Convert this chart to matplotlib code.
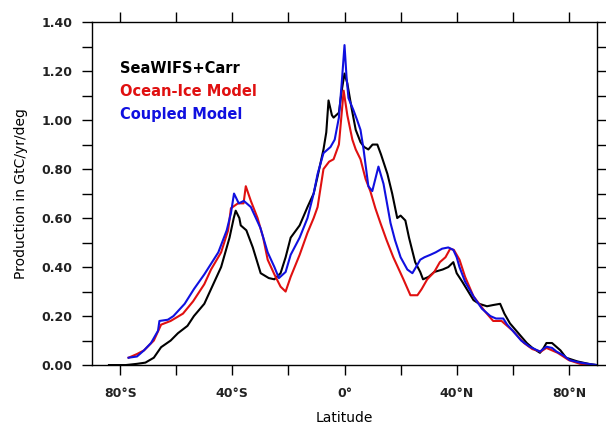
import numpy as np
import matplotlib
matplotlib.use("Agg")
from matplotlib import pyplot
from matplotlib.ticker import MultipleLocator, FixedLocator

# zonal integrated primary production
lat_obs = [-84, -78, -74, -71, -68, -65.4, -62, -59.4, -56, -53.7, -50, -47.6, -44, -41, -39.5,
           -38.8, -37.5, -37, -35, -32.7, -29.9, -27, -25, -22.8, -21, -19.2, -16, -13.2, -11,
           -9.6, -7.5, -6.5, -5.7, -4.5, -3.9, -2, -1, 0, 1, 2.5, 4, 5.7, 7, 8.5, 10, 11.7, 13,
           15.3, 17, 18.8, 20, 21.7, 23, 25.2, 27, 28, 30, 32, 35, 37, 38.8, 40, 42, 46, 48, 50.8,
           53, 55.5, 57, 59, 62, 65, 67, 69.7, 71, 72, 74, 75, 77, 79, 83, 87, 90]
prod_obs = [0, 0, 0.005, 0.01, 0.03, 0.073, 0.10, 0.13, 0.16, 0.20, 0.25, 0.31, 0.40, 0.52, 0.60,
            0.63, 0.60, 0.57, 0.55, 0.48, 0.375, 0.355, 0.35, 0.375, 0.44, 0.52, 0.57, 0.645, 0.70,
            0.77, 0.88, 0.95, 1.08, 1.02, 1.01, 1.03, 1.12, 1.19, 1.15, 1.05, 0.96, 0.91, 0.89, 0.88,
            0.90, 0.90, 0.86, 0.78, 0.70, 0.60, 0.61, 0.59, 0.52, 0.42, 0.38, 0.35, 0.36, 0.38, 0.39,
            0.40, 0.42, 0.375, 0.34, 0.265, 0.25, 0.24, 0.245, 0.25, 0.21, 0.17, 0.13, 0.09, 0.07,
            0.05, 0.07, 0.09, 0.09, 0.08, 0.06, 0.03, 0.015, 0.005, 0]

lat_ocn = [-77, -74, -71.5, -68, -66, -65.4, -62, -57.6, -54, -50, -47.6, -44, -41.5, -40.5, -38,
           -36, -35.2, -33.4, -31, -29, -27.4, -25, -22.8, -21, -19.2, -16, -13.2, -11, -9.6, -7.5,
           -5.5, -3.9, -2, -0.3, 1, 2.8, 4, 5.7, 7.5, 9.2, 11, 12.8, 15, 17.4, 19, 21, 23.5, 26,
           27.5, 29.5, 32, 34, 36, 37.7, 39, 41, 43, 46, 50, 53, 56, 60, 64, 67, 70, 72, 74, 76,
           80, 84, 88]
prod_ocn = [0.03, 0.045, 0.06, 0.10, 0.15, 0.165, 0.18, 0.21, 0.26, 0.33, 0.39, 0.46, 0.55, 0.64,
            0.66, 0.66, 0.73, 0.67, 0.60, 0.52, 0.43, 0.37, 0.32, 0.30, 0.36, 0.45, 0.54, 0.60,
            0.645, 0.80, 0.83, 0.84, 0.90, 1.12, 1.02, 0.92, 0.88, 0.84, 0.76, 0.71, 0.64, 0.58,
            0.51, 0.44, 0.40, 0.35, 0.285, 0.285, 0.31, 0.35, 0.38, 0.42, 0.44, 0.475, 0.47, 0.43,
            0.36, 0.28, 0.22, 0.18, 0.18, 0.14, 0.09, 0.065, 0.055, 0.07, 0.06, 0.05, 0.02, 0.005, 0]

lat_cpl = [-77, -74, -71.5, -69, -66.5, -66, -63, -61, -57, -53.7, -50, -45, -42, -40.5, -39.4,
           -37.7, -35.9, -33.4, -30, -27.4, -25, -23.4, -21, -19.2, -16, -13.2, -11, -9.6, -7.5,
           -5, -3.5, -2, -1, 0, 0.7, 1.4, 3.2, 4.5, 5.7, 6.8, 8.5, 9.9, 11, 12.1, 13.9, 15, 16.4,
           18, 20, 22.4, 24.2, 25.5, 27, 28.5, 30.6, 32.5, 34.8, 37, 38.8, 40, 41, 43, 46, 49, 52,
           54, 56.6, 58, 60, 63, 66, 69.7, 72, 74, 75.6, 78, 80.3, 84, 88, 90]
prod_cpl = [0.03, 0.035, 0.06, 0.09, 0.14, 0.18, 0.185, 0.20, 0.25, 0.31, 0.37, 0.46, 0.55, 0.62,
            0.70, 0.66, 0.67, 0.645, 0.56, 0.46, 0.40, 0.355, 0.38, 0.45, 0.52, 0.60, 0.70, 0.78,
            0.865, 0.89, 0.92, 1.01, 1.15, 1.306, 1.18, 1.09, 1.04, 1.00, 0.96, 0.88, 0.73, 0.71,
            0.76, 0.81, 0.74, 0.67, 0.58, 0.51, 0.44, 0.39, 0.375, 0.40, 0.43, 0.44, 0.45, 0.46,
            0.475, 0.48, 0.47, 0.44, 0.40, 0.34, 0.28, 0.23, 0.20, 0.19, 0.19, 0.165, 0.14, 0.10,
            0.075, 0.055, 0.075, 0.07, 0.055, 0.04, 0.02, 0.01, 0.003, 0]

series_names = ['SeaWIFS+Carr', 'Ocean-Ice Model', 'Coupled Model']
xtick_pos = [-80, -40, 0, 40, 80]
xtick_labels = ['80°S', '40°S', '0°', '40°N', '80°N']

fig = pyplot.figure(figsize=(6.06, 4.24), dpi=100)
ax = fig.add_axes([0.152, 0.139, 0.833, 0.809])

ax.plot(lat_obs, prod_obs, color='black', lw=1.5)
ax.plot(lat_ocn, prod_ocn, color='#e01010', lw=1.5)
ax.plot(lat_cpl, prod_cpl, color='#1010e0', lw=1.5)

ax.set_xlim(-90, 90)
ax.set_ylim(0, 1.4)

ax.xaxis.set_major_locator(FixedLocator(xtick_pos))
ax.set_xticklabels(xtick_labels)
ax.xaxis.set_minor_locator(MultipleLocator(20))
ax.yaxis.set_major_locator(MultipleLocator(0.2))
ax.yaxis.set_minor_locator(MultipleLocator(0.1))
ax.yaxis.set_major_formatter(matplotlib.ticker.FormatStrFormatter('%.2f'))

ax.tick_params(which='both', direction='out', top=True, right=True, length=7, width=1,
               labelsize=9, labelcolor='#222222')
ax.tick_params(axis='y', pad=7)
ax.tick_params(axis='x', pad=9)
for lab in ax.get_xticklabels() + ax.get_yticklabels():
    lab.set_fontweight('bold')
for sp in ax.spines.values():
    sp.set_linewidth(1)

ax.set_xlabel('Latitude', fontsize=10, labelpad=8)
ax.set_ylabel('Production in GtC/yr/deg', fontsize=10, labelpad=10)

colors = ['black', '#e01010', '#1010e0']
for i, (name, c) in enumerate(zip(series_names, colors)):
    ax.text(0.055, 0.865 - i * 0.067, name, color=c, transform=ax.transAxes,
            fontsize=10.5, fontweight='bold', va='center')

fig.savefig('out.png', dpi=100)
